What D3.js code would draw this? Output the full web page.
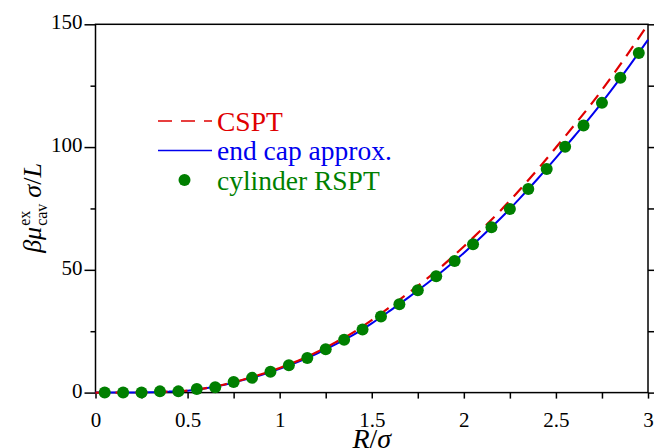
<!DOCTYPE html>
<html><head><meta charset="utf-8">
<script src="https://cdn.jsdelivr.net/npm/d3@7"></script>
<style>
body{margin:0;background:#fff}
svg{display:block}
text{font-family:"Liberation Serif","Times New Roman",serif}
</style>
</head><body>
<svg id="c" width="654" height="448"></svg>
<script>
// ---- data ----
const curveR = [0,0.1,0.2,0.3,0.4,0.5,0.6,0.7,0.8,0.9,1.0,1.1,1.2,1.3,1.4,1.5,1.6,1.7,1.8,1.9,2.0,2.1,2.2,2.3,2.4,2.5,2.6,2.7,2.8,2.9,3.0];
const endCap = [0,0,0,0.1,0.4,0.8,1.8,3.2,5.1,7.2,9.7,12.5,15.8,19.5,23.5,28.2,33.4,38.8,44.4,50.4,56.9,63.8,71.0,78.8,87.0,95.6,104.4,113.4,123.1,133.2,143.7];
const cspt   = [0,0,0,0.1,0.4,0.8,1.85,3.3,5.25,7.45,10.05,13.0,16.45,20.35,24.55,29.5,34.95,40.6,46.45,52.7,59.5,66.7,74.2,82.3,90.85,99.8,108.95,118.3,128.4,139.0,150.0];
const rsptR = [0.05,0.15,0.25,0.35,0.45,0.55,0.65,0.75,0.85,0.95,1.05,1.15,1.25,1.35,1.45,1.55,1.65,1.75,1.85,1.95,2.05,2.15,2.25,2.35,2.45,2.55,2.65,2.75,2.85,2.95];
const rspt  = [0,0,0,0.5,0.5,1.5,2.2,4.3,6.0,8.5,11.1,14.1,17.7,21.5,25.7,31.0,36.0,41.7,47.4,53.6,60.4,67.3,74.8,82.9,91.1,100.1,108.8,118.0,128.2,138.3];
const xMajorTicks = [0,0.5,1,1.5,2,2.5,3];
const xTickLabels = ["0","0.5","1","1.5","2","2.5","3"];
const xMinorTicks = [0.25,0.75,1.25,1.75,2.25,2.75];
const yMajorTicks = [0,50,100,150];
const yTickLabels = ["0","50","100","150"];
const yMinorTicks = [25,75,125];
const legendLabels = ["CSPT","end cap approx.","cylinder RSPT"];
const colors = {cspt:"#e00000", endcap:"#0000ee", rspt:"#007f00"};

// ---- layout ----
const svg = d3.select("#c");
const L = 95.5, R = 648, T = 24.3, B = 392.6;
const x = d3.scaleLinear().domain([0,3]).range([L,R]);
const y = d3.scaleLinear().domain([0,150]).range([B,T]);
const serif = "'Liberation Serif','Times New Roman',serif";

function styleAxis(g){
  g.attr("font-family",serif);
  g.select(".domain").remove();
  g.selectAll(".tick line").attr("stroke","#000").attr("stroke-width",1.5);
  g.selectAll(".tick text").attr("font-size",21).attr("fill","#000").attr("font-family",serif);
}

// bottom axis
svg.append("g").attr("transform",`translate(0,${B})`)
  .call(d3.axisBottom(x).tickValues(xMajorTicks).tickSize(6).tickPadding(13)
        .tickFormat((d,i)=>xTickLabels[i]))
  .call(styleAxis);
svg.append("g").attr("transform",`translate(0,${B})`)
  .call(d3.axisBottom(x).tickValues(xMinorTicks).tickSize(6).tickFormat(""))
  .call(styleAxis);
// left axis
svg.append("g").attr("transform",`translate(${L},0)`)
  .call(d3.axisLeft(y).tickValues(yMajorTicks).tickSize(11).tickPadding(2)
        .tickFormat((d,i)=>yTickLabels[i]))
  .call(styleAxis)
  .selectAll(".tick text").attr("dy","0.22em");
svg.append("g").attr("transform",`translate(${L},0)`)
  .call(d3.axisLeft(y).tickValues(yMinorTicks).tickSize(5).tickFormat(""))
  .call(styleAxis);
// right axis
svg.append("g").attr("transform",`translate(${R},0)`)
  .call(d3.axisRight(y).tickValues(yMajorTicks.concat(yMinorTicks)).tickSize(6).tickFormat(""))
  .call(styleAxis);

// frame
svg.append("rect").attr("x",L).attr("y",T).attr("width",R-L).attr("height",B-T)
  .attr("fill","none").attr("stroke","#000").attr("stroke-width",1.5);

// curves
const line = d3.line().x(d=>x(d[0])).y(d=>y(d[1])).curve(d3.curveMonotoneX);
svg.append("path").datum(curveR.map((r,i)=>[r,endCap[i]]))
  .attr("d",line).attr("fill","none").attr("stroke",colors.endcap).attr("stroke-width",2);
svg.append("path").datum(curveR.map((r,i)=>[r,cspt[i]]))
  .attr("d",line).attr("fill","none").attr("stroke",colors.cspt).attr("stroke-width",2.2)
  .attr("stroke-dasharray","12,8");

// points
svg.append("g").selectAll("circle").data(rsptR.map((r,i)=>[r,rspt[i]])).join("circle")
  .attr("cx",d=>x(d[0])).attr("cy",d=>y(d[1])).attr("r",6).attr("fill",colors.rspt);

// legend
const lg = svg.append("g");
const rowY = [121,150.5,180];
lg.append("line").attr("x1",158).attr("x2",212).attr("y1",rowY[0]).attr("y2",rowY[0])
  .attr("stroke",colors.cspt).attr("stroke-width",1.6).attr("stroke-dasharray","14,9");
lg.append("line").attr("x1",158).attr("x2",212).attr("y1",rowY[1]).attr("y2",rowY[1])
  .attr("stroke",colors.endcap).attr("stroke-width",1.6);
lg.append("circle").attr("cx",184.5).attr("cy",rowY[2]).attr("r",6).attr("fill",colors.rspt);
const legColors = [colors.cspt,colors.endcap,colors.rspt];
legendLabels.forEach((t,i)=>{
  lg.append("text").attr("x",217).attr("y",rowY[i]+9.5).attr("font-size",27.5)
    .attr("font-family",serif).attr("fill",legColors[i]).text(t);
});

// x title
const xt = svg.append("text").attr("x",(L+R)/2).attr("y",448).attr("text-anchor","middle")
  .attr("font-size",28).attr("font-family",serif);
xt.append("tspan").attr("font-style","italic").text("R");
xt.append("tspan").text("/");
xt.append("tspan").attr("font-style","italic").text("σ");

// y title (rotated, assembled piecewise)
const yg = svg.append("g").attr("transform","translate(41,208) rotate(-90)").attr("font-family",serif);
const p1 = yg.append("text").attr("font-size",26).attr("font-style","italic").text("βμ");
const w1 = p1.node().getComputedTextLength();
const sup = yg.append("text").attr("font-size",16).attr("x",w1+1).attr("y",-11).text("ex");
const sub = yg.append("text").attr("font-size",16).attr("x",w1+1).attr("y",6).text("cav");
const w2 = Math.max(sup.node().getComputedTextLength(), sub.node().getComputedTextLength());
const p3 = yg.append("text").attr("font-size",26).attr("x",w1+1+w2+6);
p3.append("tspan").attr("font-style","italic").text("σ");
p3.append("tspan").text("/");
p3.append("tspan").attr("font-style","italic").text("L");
const total = w1+1+w2+6+p3.node().getComputedTextLength();
yg.selectAll("text").attr("transform",`translate(${-total/2},0)`);
</script>
</body></html>
